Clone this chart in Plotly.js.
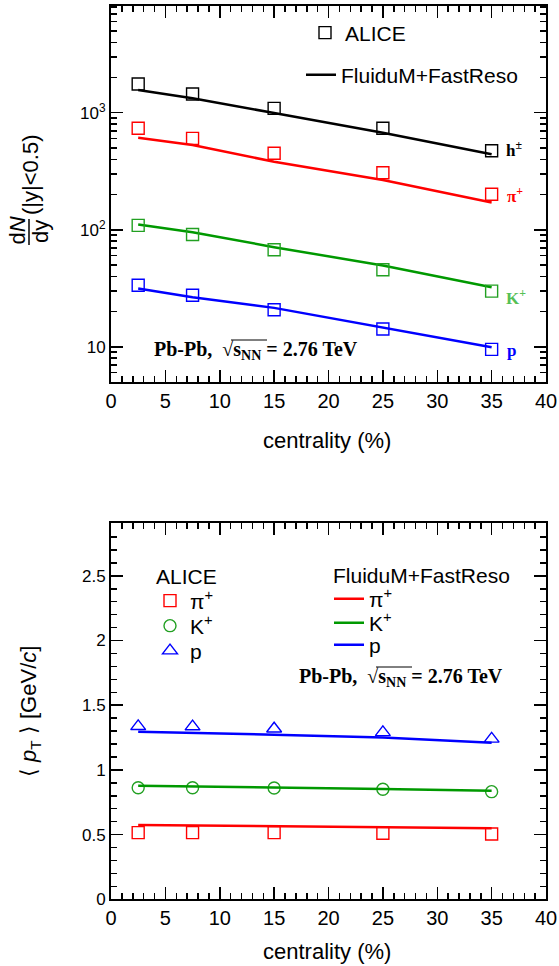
<!DOCTYPE html>
<html>
<head>
<meta charset="utf-8">
<script src="https://cdn.plot.ly/plotly-3.0.1.min.js"></script>
<style>html,body{margin:0;padding:0;background:#fff;}#chart{width:559px;height:966px;}</style>
</head>
<body>
<div id="chart"></div>
<script>
// ---------- data ----------
var centrality = [2.5, 7.5, 15, 25, 35];

// dN/dy (top panel)
var hData   = [1760, 1445, 1090, 736, 473];
var hModel  = [1565, 1330, 995, 675, 441];
var piData  = [736, 604, 450, 307, 201];
var piModel = [611, 530, 381, 266, 171];
var kData   = [109, 91.2, 67.4, 45.5, 29.9];
var kModel  = [111, 95.4, 71, 49.5, 32.3];
var pData   = [33.6, 27.6, 20.7, 14.2, 9.5];
var pModel  = [31.5, 26.5, 21.5, 14.7, 9.9];

// <pT> (bottom panel)
var piMpt      = [0.515, 0.515, 0.515, 0.510, 0.505];
var piMptModel = [0.574, 0.570, 0.565, 0.556, 0.549];
var kMpt       = [0.862, 0.862, 0.860, 0.850, 0.832];
var kMptModel  = [0.878, 0.873, 0.866, 0.852, 0.839];
var pMpt       = [1.337, 1.335, 1.318, 1.290, 1.240];
var pMptModel  = [1.295, 1.288, 1.272, 1.250, 1.210];

// tick labels
var xTickVals = [0, 5, 10, 15, 20, 25, 30, 35, 40];
var yLogTickVals = [10, 100, 1000];
var yLogTickText = ['10', '10<sup>2</sup>', '10<sup>3</sup>'];
var yLogMinor = [5,6,7,8,9,20,30,40,50,60,70,80,90,200,300,400,500,600,700,800,900,2000,3000,4000,5000,6000,7000,8000];

// ---------- style ----------
var W = 559, H = 966;
function px(x){ return x / W; }
function py(y){ return 1 - y / H; }
var SANS = 'Liberation Sans, Arial, sans-serif';
var SERIF = 'Liberation Serif, Times New Roman, serif';
var RED = '#ff0000', GREEN = '#009900', BLUE = '#0000ff', BLACK = '#000000';
var GREEN_M = '#22a022', GREEN_LBL = '#55c055';

function dataTrace(x, y, color, symbol, size, xa, ya, name, opts) {
  var t = {x: x, y: y, type: 'scatter', mode: 'markers', xaxis: xa, yaxis: ya,
    name: name, showlegend: false,
    marker: {symbol: symbol, size: size, color: color, line: {color: color, width: 1.4}}};
  for (var k in opts) t[k] = opts[k];
  return t;
}
function modelTrace(x, y, color, xa, ya, name, opts) {
  var t = {x: x, y: y, type: 'scatter', mode: 'lines', xaxis: xa, yaxis: ya,
    name: name, showlegend: false, line: {color: color, width: 2.5}};
  for (var k in opts) t[k] = opts[k];
  return t;
}

var traces = [
  // top panel
  modelTrace(centrality, hModel, BLACK, 'x', 'y', 'FluiduM+FastReso', {showlegend: true, legend: 'legend2'}),
  modelTrace(centrality, piModel, RED, 'x', 'y', 'pi model'),
  modelTrace(centrality, kModel, GREEN, 'x', 'y', 'K model'),
  modelTrace(centrality, pModel, BLUE, 'x', 'y', 'p model'),
  dataTrace(centrality, hData, BLACK, 'square-open', 12, 'x', 'y', 'ALICE', {showlegend: true, legend: 'legend'}),
  dataTrace(centrality, piData, RED, 'square-open', 12, 'x', 'y', 'pi'),
  dataTrace(centrality, kData, GREEN_M, 'square-open', 12, 'x', 'y', 'K'),
  dataTrace(centrality, pData, BLUE, 'square-open', 12, 'x', 'y', 'p'),
  // bottom panel
  dataTrace(centrality, piMpt, RED, 'square-open', 12, 'x2', 'y2', 'π<sup>+</sup>', {showlegend: true, legend: 'legend3'}),
  dataTrace(centrality, kMpt, GREEN_M, 'circle-open', 12, 'x2', 'y2', 'K<sup>+</sup>', {showlegend: true, legend: 'legend4'}),
  dataTrace(centrality, pMpt, BLUE, 'triangle-up-open', 13, 'x2', 'y2', 'p', {showlegend: true, legend: 'legend5'}),
  modelTrace(centrality, piMptModel, RED, 'x2', 'y2', 'π<sup>+</sup>', {showlegend: true, legend: 'legend6'}),
  modelTrace(centrality, kMptModel, GREEN, 'x2', 'y2', 'K<sup>+</sup>', {showlegend: true, legend: 'legend7'}),
  modelTrace(centrality, pMptModel, BLUE, 'x2', 'y2', 'p', {showlegend: true, legend: 'legend8'})
];

var xDomain = [px(111), px(546)];
function xAxis(anchor) {
  return {domain: xDomain, anchor: anchor, range: [0, 40], tickmode: 'array', tickvals: xTickVals,
    ticks: 'inside', ticklen: 12, tickwidth: 1.5, tickcolor: BLACK,
    showline: true, linewidth: 2, linecolor: BLACK, mirror: 'allticks',
    showgrid: false, zeroline: false,
    minor: {dtick: 1, tick0: 0, ticks: 'inside', ticklen: 6, tickwidth: 1.5, tickcolor: BLACK, showgrid: false},
    tickfont: {family: SANS, size: 20, color: BLACK}};
}
function leg(x, y) {
  return {x: px(x), y: py(y), xanchor: 'left', yanchor: 'middle', bgcolor: 'rgba(0,0,0,0)', borderwidth: 0,
    font: {family: SANS, size: 21, color: BLACK}};
}

var layout = {
  width: W, height: H,
  margin: {l: 0, r: 0, t: 0, b: 0},
  paper_bgcolor: '#ffffff', plot_bgcolor: '#ffffff',
  showlegend: true,
  xaxis: xAxis('y'),
  yaxis: {domain: [py(382), py(6)], anchor: 'x', type: 'log', range: [Math.log10(5), Math.log10(8170)],
    tickmode: 'array', tickvals: yLogTickVals, ticktext: yLogTickText,
    ticks: 'inside', ticklen: 12, tickwidth: 1.5, tickcolor: BLACK,
    showline: true, linewidth: 2, linecolor: BLACK, mirror: 'allticks',
    showgrid: false, zeroline: false,
    minor: {tickmode: 'array', tickvals: yLogMinor, ticks: 'inside', ticklen: 6, tickwidth: 1.5, tickcolor: BLACK, showgrid: false},
    tickfont: {family: SANS, size: 17, color: BLACK}},
  xaxis2: xAxis('y2'),
  yaxis2: {domain: [py(899.3), py(523.3)], anchor: 'x2', range: [0, 2.906], dtick: 0.5, tick0: 0,
    ticks: 'inside', ticklen: 12, tickwidth: 1.5, tickcolor: BLACK,
    showline: true, linewidth: 2, linecolor: BLACK, mirror: 'allticks',
    showgrid: false, zeroline: false,
    minor: {dtick: 0.1, tick0: 0, ticks: 'inside', ticklen: 6, tickwidth: 1.5, tickcolor: BLACK, showgrid: false},
    tickfont: {family: SANS, size: 17, color: BLACK}},
  legend: leg(305, 33),
  legend2: leg(301, 75),
  legend3: leg(150, 601),
  legend4: leg(150, 626),
  legend5: leg(150, 651),
  legend6: leg(329, 599),
  legend7: leg(329, 623),
  legend8: leg(329, 645),
  shapes: [
    // fraction bar of dN/dy
    {type: 'line', xref: 'paper', yref: 'paper', x0: px(29), x1: px(29), y0: py(219), y1: py(245), line: {color: BLACK, width: 1.5}},
    // radical overlines
    {type: 'line', xref: 'paper', yref: 'paper', x0: px(231), x1: px(267), y0: py(340), y1: py(340), line: {color: BLACK, width: 1}},
    {type: 'line', xref: 'paper', yref: 'paper', x0: px(376), x1: px(412), y0: py(667), y1: py(667), line: {color: BLACK, width: 1}}
  ],
  annotations: [
    // axis titles
    {text: 'centrality (%)', xref: 'paper', yref: 'paper', x: px(327), y: py(440), xanchor: 'center', yanchor: 'middle', showarrow: false, font: {family: SANS, size: 22, color: BLACK}},
    {text: 'centrality (%)', xref: 'paper', yref: 'paper', x: px(327), y: py(951), xanchor: 'center', yanchor: 'middle', showarrow: false, font: {family: SANS, size: 22, color: BLACK}},
    {text: '(|y|&lt;0.5)', xref: 'paper', yref: 'paper', x: px(30), y: py(175), xanchor: 'center', yanchor: 'middle', textangle: -90, showarrow: false, font: {family: SANS, size: 22, color: BLACK}},
    {text: 'd<i>N</i>', xref: 'paper', yref: 'paper', x: px(17.5), y: py(231), xanchor: 'center', yanchor: 'middle', textangle: -90, showarrow: false, font: {family: SANS, size: 22, color: BLACK}},
    {text: 'dy', xref: 'paper', yref: 'paper', x: px(41), y: py(232), xanchor: 'center', yanchor: 'middle', textangle: -90, showarrow: false, font: {family: SANS, size: 22, color: BLACK}},
    {text: '⟨ <i>p</i><sub>T</sub> ⟩ [GeV/<i>c</i>]', xref: 'paper', yref: 'paper', x: px(30), y: py(712), xanchor: 'center', yanchor: 'middle', textangle: -90, showarrow: false, font: {family: SANS, size: 22, color: BLACK}},
    // bottom legend headers
    {text: 'ALICE', xref: 'paper', yref: 'paper', x: px(154), y: py(576), xanchor: 'left', yanchor: 'middle', showarrow: false, font: {family: SANS, size: 21, color: BLACK}},
    {text: 'FluiduM+FastReso', xref: 'paper', yref: 'paper', x: px(331), y: py(575), xanchor: 'left', yanchor: 'middle', showarrow: false, font: {family: SANS, size: 21, color: BLACK}},
    // collision system
    {text: '<b>Pb-Pb,  √s<sub>NN</sub> = 2.76 TeV</b>', xref: 'paper', yref: 'paper', x: px(152), y: py(350), xanchor: 'left', yanchor: 'middle', showarrow: false, font: {family: SERIF, size: 20, color: BLACK}},
    {text: '<b>Pb-Pb,  √s<sub>NN</sub> = 2.76 TeV</b>', xref: 'paper', yref: 'paper', x: px(297), y: py(677), xanchor: 'left', yanchor: 'middle', showarrow: false, font: {family: SERIF, size: 20, color: BLACK}},
    // species labels
    {text: '<b>h<sup>±</sup></b>', xref: 'paper', yref: 'paper', x: px(504), y: py(149), xanchor: 'left', yanchor: 'middle', showarrow: false, font: {family: SERIF, size: 17, color: BLACK}},
    {text: '<b>π<sup>+</sup></b>', xref: 'paper', yref: 'paper', x: px(505), y: py(195), xanchor: 'left', yanchor: 'middle', showarrow: false, font: {family: SERIF, size: 17, color: RED}},
    {text: '<b>K<sup>+</sup></b>', xref: 'paper', yref: 'paper', x: px(504), y: py(297), xanchor: 'left', yanchor: 'middle', showarrow: false, font: {family: SERIF, size: 17, color: GREEN_LBL}},
    {text: '<b>p</b>', xref: 'paper', yref: 'paper', x: px(505), y: py(351), xanchor: 'left', yanchor: 'middle', showarrow: false, font: {family: SERIF, size: 17, color: BLUE}}
  ]
};

Plotly.newPlot('chart', traces, layout, {staticPlot: true, displayModeBar: false});
</script>
</body>
</html>
